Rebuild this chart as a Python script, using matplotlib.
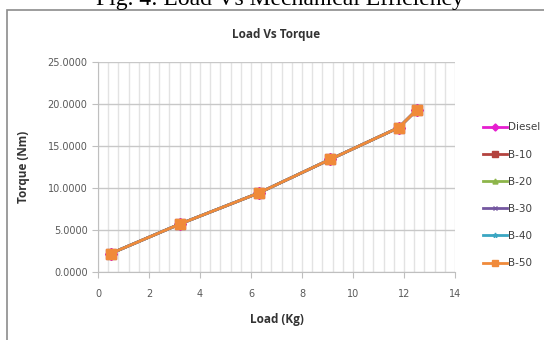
import numpy as np
import matplotlib
matplotlib.use('Agg')
import matplotlib.pyplot as plt
from matplotlib.patches import Rectangle

# data (all fuels overlap on one line)
load = [0.5, 3.2, 6.3, 9.1, 11.8, 12.5]
torque = [2.2, 5.7, 9.4, 13.4, 17.2, 19.3]
fuels = ['Diesel', 'B-10', 'B-20', 'B-30', 'B-40', 'B-50']
colors = ['#E61ECF', '#B3433F', '#8DB54A', '#7457A0', '#3AA6C2', '#F08A3A']
markers = ['D', 's', '^', 'x', '*', 's']

fig = plt.figure(figsize=(5.44, 3.4), dpi=100)

# paper caption, cut off at the top of the screenshot
fig.text(0.515, 1.0 - 4.5 / 340, 'Fig. 4: Load Vs Mechanical Efficiency',
         family='Liberation Serif', fontsize=17, ha='center', va='baseline')

# chart frame
fig.patches.append(Rectangle((7 / 544, -0.1), 1.0, 1.0 - 9.5 / 340 + 0.1,
                             transform=fig.transFigure, fill=False,
                             edgecolor='#8C8C8C', linewidth=1.2))

ax = fig.add_axes([98 / 544, 68 / 340, (455 - 98) / 544, (272 - 62) / 340])

for name, c, m in zip(fuels, colors, markers):
    ax.plot(load, torque, color=c, marker=m, markersize=6 if m != 's' else 7.5,
            linewidth=2, markeredgecolor=c, label=name)

ax.set_xlim(0, 14)
ax.set_ylim(0, 25)
ax.set_xticks(np.arange(0, 15, 2))
ax.set_xticks(np.arange(0, 14.01, 0.4), minor=True)
ax.set_yticks(np.arange(0, 26, 5))
ax.set_yticklabels(['%.4f' % v for v in np.arange(0, 26, 5)])
ax.grid(which='major', axis='y', color='#C8C8C8', linewidth=1)
ax.grid(which='both', axis='x', color='#E3E3E3', linewidth=1)
ax.set_axisbelow(True)
for s in ['top', 'right']:
    ax.spines[s].set_visible(False)
for s in ['left', 'bottom']:
    ax.spines[s].set_color('#BFBFBF')
ax.tick_params(which='major', colors='#BFBFBF', labelcolor='#595959',
               labelsize=7, length=4)
ax.tick_params(axis='x', pad=8)
ax.tick_params(which='minor', length=0)

ax.set_title('Load Vs Torque', fontsize=8.5, fontweight='bold',
             family='Open Sans', color='#333333', pad=17)
ax.set_xlabel('Load (Kg)', fontsize=8.5, fontweight='bold', family='Open Sans',
              color='#333333', labelpad=10)
ax.set_ylabel('Torque (Nm)', fontsize=8.5, fontweight='bold', family='Open Sans',
              color='#333333', labelpad=13)

ax.legend(loc='upper left', bbox_to_anchor=(474 / 544, 1 - 113 / 340),
          bbox_transform=fig.transFigure, frameon=False, fontsize=7.5,
          handlelength=2.3, handletextpad=0.1, labelspacing=1.65,
          markerscale=0.6, labelcolor='#404040')

fig.savefig('out.png', dpi=100)
